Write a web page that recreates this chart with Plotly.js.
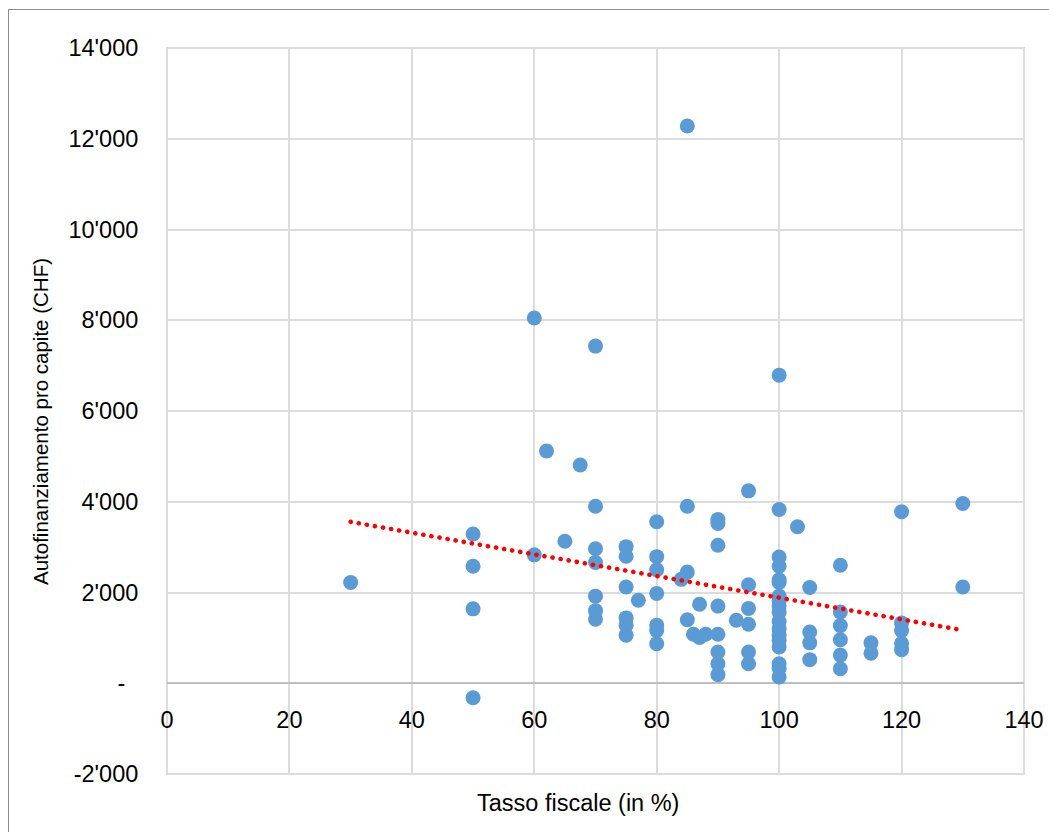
<!DOCTYPE html>
<html>
<head>
<meta charset="utf-8">
<script src="https://cdn.plot.ly/plotly-3.0.1.min.js"></script>
<style>
  html, body { margin: 0; padding: 0; background: #fff; }
  #frame { position: absolute; left: 8px; top: 9px; width: 1200px; height: 1000px; border-left: 1.3px solid #8c8c8c; border-top: 1.3px solid #8c8c8c; box-sizing: border-box; pointer-events: none; }
  #chart { position: absolute; left: 0; top: 0; width: 1049px; height: 832px; }
  path.js-line { stroke-linecap: round !important; }
</style>
</head>
<body>
<div id="chart"></div>
<div id="frame"></div>
<script>
// Tasso fiscale (in %)
const taxRate = [
  30,
  50, 50, 50, 50,
  60, 60,
  62,
  65,
  67.5,
  70, 70, 70, 70, 70, 70, 70,
  75, 75, 75, 75, 75, 75,
  77,
  80, 80, 80, 80, 80, 80, 80,
  84,
  85, 85, 85, 85,
  86,
  87, 87,
  88,
  90, 90, 90, 90, 90, 90, 90, 90,
  93,
  95, 95, 95, 95, 95, 95,
  100, 100, 100, 100, 100, 100, 100, 100, 100, 100, 100, 100, 100, 100, 100, 100, 100, 100,
  103,
  105, 105, 105, 105,
  110, 110, 110, 110, 110, 110,
  115, 115,
  120, 120, 120, 120, 120,
  130, 130
];
// Autofinanziamento pro capite (CHF)
const selfFinancing = [
  2220,
  3290, 2580, 1640, -320,
  8050, 2830,
  5120,
  3130,
  4810,
  7430, 3900, 2965, 2660, 1920, 1600, 1410,
  3010, 2800, 2120, 1440, 1280, 1060,
  1830,
  3560, 2790, 2500, 1980, 1280, 1160, 870,
  2290,
  12280, 3900, 2450, 1400,
  1080,
  1740, 1010,
  1080,
  3610, 3520, 3040, 1700, 1080, 690, 430, 190,
  1390,
  4240, 2170, 1650, 1300, 690, 430,
  6790, 3830, 2780, 2580, 2280, 2220, 1920, 1820, 1700, 1560, 1360, 1200, 1050, 950, 800, 430, 330, 140,
  3450,
  2110, 1130, 890, 520,
  2600, 1570, 1270, 960, 620, 320,
  890, 660,
  3780, 1330, 1160, 880, 740,
  3960, 2120
];
// Linear trend line
const trendX = [30, 130];
const trendY = [3557, 1169];

const xTicks = [0, 20, 40, 60, 80, 100, 120, 140];
const yTicks = [-2000, 0, 2000, 4000, 6000, 8000, 10000, 12000, 14000];
const yTickText = ["-2'000", "-\u00a0\u00a0", "2'000", "4'000", "6'000", "8'000", "10'000", "12'000", "14'000"];

const xTitle = "Tasso fiscale (in %)";
const yTitle = "Autofinanziamento pro capite (CHF)";

const FONT = "Liberation Sans, Arial, sans-serif";
const GRID = '#dcdcdc';

const traces = [
  {
    type: 'scatter', mode: 'markers',
    x: taxRate, y: selfFinancing,
    marker: { color: '#5B9BD5', size: 15, line: { width: 0 } },
    hoverinfo: 'x+y', showlegend: false, cliponaxis: false
  },
  {
    type: 'scatter', mode: 'lines',
    x: trendX, y: trendY,
    line: { color: '#FF0000', width: 4.6, dash: '0.1px,8.1px' },
    hoverinfo: 'skip', showlegend: false
  }
];

const layout = {
  width: 1049, height: 832,
  margin: { l: 167, r: 25, t: 48, b: 58, pad: 0 },
  paper_bgcolor: '#ffffff', plot_bgcolor: '#ffffff',
  font: { family: FONT, color: '#000000', size: 23.5 },
  showlegend: false,
  xaxis: {
    range: [0, 140], tickvals: xTicks, ticktext: xTicks.map(String),
    anchor: 'free', position: 0.125,
    showgrid: true, gridcolor: GRID, gridwidth: 2,
    zeroline: false, showline: false,
    ticks: 'outside', ticklen: 16, tickcolor: 'rgba(0,0,0,0)',
    tickfont: { family: FONT, size: 23.5, color: '#000' },
    fixedrange: true
  },
  yaxis: {
    range: [-2000, 14000], tickvals: yTicks, ticktext: yTickText,
    showgrid: true, gridcolor: GRID, gridwidth: 2,
    zeroline: true, zerolinecolor: '#bfbfbf', zerolinewidth: 2,
    showline: false,
    ticks: 'outside', ticklen: 23, tickcolor: 'rgba(0,0,0,0)',
    tickfont: { family: FONT, size: 23.5, color: '#000' },
    fixedrange: true
  },
  shapes: [
    {
      type: 'rect', xref: 'paper', yref: 'paper', x0: 0, x1: 1, y0: 0, y1: 1,
      line: { color: GRID, width: 2 }, fillcolor: 'rgba(0,0,0,0)', layer: 'below'
    }
  ],
  annotations: [
    {
      text: xTitle, xref: 'paper', yref: 'paper',
      x: 0.4796, y: -0.040, xanchor: 'center', yanchor: 'middle',
      showarrow: false, font: { family: FONT, size: 23.5, color: '#000' }
    },
    {
      text: yTitle, xref: 'paper', yref: 'paper',
      x: -0.1482, y: 0.4862, xanchor: 'center', yanchor: 'middle',
      textangle: -90,
      showarrow: false, font: { family: FONT, size: 20.5, color: '#000' }
    }
  ]
};

Plotly.newPlot('chart', traces, layout, { staticPlot: true, displayModeBar: false });
</script>
</body>
</html>
